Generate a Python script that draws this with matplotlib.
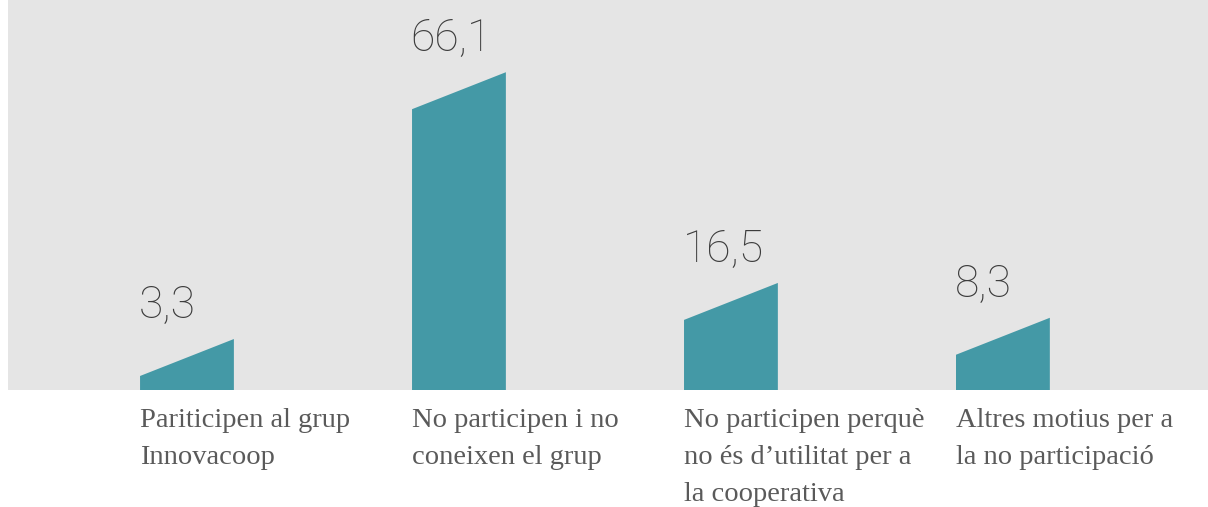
import matplotlib
matplotlib.use("Agg")
import matplotlib.pyplot as plt
import matplotlib.transforms as mtransforms

# data
categories = [
    "Pariticipen al grup\nInnovacoop",
    "No participen i no\nconeixen el grup",
    "No participen perquè\nno és d’utilitat per a\nla cooperativa",
    "Altres motius per a\nla no participació",
]
values = [3.3, 66.1, 16.5, 8.3]
value_labels = ["3,3", "66,1", "16,5", "8,3"]

bar_color = "#4499a6"
bg_color = "#e5e5e5"
bar_w = 0.345
slant = 8.7  # extra height on the right side of each bar

fig = plt.figure(figsize=(12.08, 5.07), dpi=100)
ax = fig.add_axes([8 / 1208, 117 / 507, 1200 / 1208, 390 / 507])
ax.set_facecolor(bg_color)

for i, v in enumerate(values):
    l = i - bar_w / 2
    r = i + bar_w / 2
    ax.fill([l, r, r, l], [0, 0, v + slant, v], color=bar_color, lw=0)
    ax.annotate(value_labels[i], xy=(l, v + slant), xytext=(-1, 15),
                textcoords="offset points", ha="left", va="baseline",
                fontsize=32, family="Roboto", fontweight="light", color="#3c3c3c")

trans = mtransforms.blended_transform_factory(ax.transData, ax.transAxes)
for i, c in enumerate(categories):
    ax.text(i - bar_w / 2, -0.045, c, transform=trans, ha="left", va="top",
            fontsize=20.5, family="Liberation Serif", color="#5a5a5a",
            linespacing=1.65)

ax.set_xlim(-0.658, 3.754)
ax.set_ylim(0, 91.8)
for s in ax.spines.values():
    s.set_visible(False)
ax.set_xticks([])
ax.set_yticks([])

fig.savefig("out.png", dpi=100, facecolor="white")
